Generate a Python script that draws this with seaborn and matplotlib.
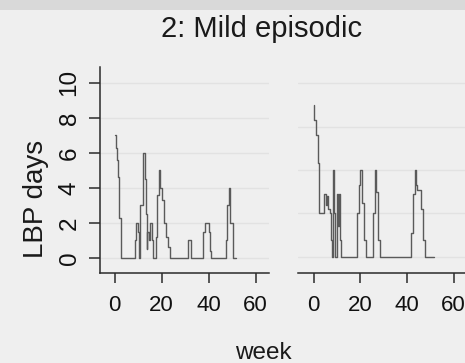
import matplotlib
matplotlib.use("Agg")
import matplotlib.pyplot as plt
from matplotlib.patches import Rectangle
import seaborn as sns
import pandas as pd

# Weekly LBP-day trajectories (step series) for two participants in class 2
weeks_a = [0, 0.6, 1.0, 1.5, 2.0, 2.7, 8.7, 9.2, 10.0, 10.6, 11.0, 12.3, 12.8, 13.2,
           13.6, 14.0, 14.5, 15.0, 15.8, 16.2, 17.6, 18.2, 18.8, 19.4, 20.0, 21.0,
           21.8, 22.8, 23.6, 31.2, 32.5, 37.8, 38.4, 40.0, 40.6, 41.2, 47.4, 48.0,
           48.8, 49.3, 50.4, 51.7]
days_a = [7, 6.3, 5.6, 4.6, 2.3, 0, 1, 2, 1.5, 0, 3, 6, 4.5, 2.5,
          0.5, 1.5, 1, 2, 1, 0, 1.2, 3.6, 5, 4, 3.3, 2,
          1.2, 0.6, 0, 1, 0, 1.5, 2, 1.5, 0.4, 0, 1, 3,
          4, 2, 0, 0]

weeks_b = [0, 0.2, 1.1, 1.9, 2.5, 4.5, 5.2, 5.8, 6.3, 7.0, 7.4, 7.9, 8.3, 8.9,
           9.3, 9.9, 10.5, 10.9, 11.3, 11.8, 18.6, 19.3, 20.0, 20.8, 21.6, 22.4,
           25.5, 26.2, 26.9, 27.4, 28.3, 41.8, 42.5, 43.3, 43.8, 44.3, 45.8, 46.8,
           47.6, 51.4]
days_b = [7, 6.3, 5.6, 4.3, 2, 2.9, 2.4, 2.8, 2.2, 2, 0.8, 0, 4, 2,
          0, 2.9, 1.4, 2.9, 0.8, 0, 2, 3.3, 4, 2.5, 0.8, 0,
          2, 4, 3, 0.8, 0, 1.1, 2.9, 4, 3.3, 3.1, 2.2, 0.8,
          0, 0]

x_ticks = [0, 20, 40, 60]
y_ticks_a = [0, 2, 4, 6, 8, 10]
y_ticks_b = [0, 2, 4, 6, 8]

df_a = pd.DataFrame({"week": weeks_a, "days": days_a})
df_b = pd.DataFrame({"week": weeks_b, "days": days_b})

sns.set_theme(style="white")
plt.rcParams["font.family"] = ["Liberation Sans", "DejaVu Sans"]

bg = "#efefef"
ink = "#2b2b2b"
W, H = 465, 363
fig = plt.figure(figsize=(W / 100, H / 100), dpi=100, facecolor=bg)
fig.patches.append(Rectangle((0, 1 - 10 / H), 1, 10 / H, transform=fig.transFigure,
                             facecolor="#d9d9d9", edgecolor="none", zorder=0))

ax_a = fig.add_axes([100 / W, 1 - 273 / H, 169 / W, 206 / H])
ax_b = fig.add_axes([298 / W, 1 - 273 / H, 169 / W, 206 / H])

line_kw = dict(color="#5a5a5a", linewidth=1.0, drawstyle="steps-post",
               estimator=None, sort=False, legend=False)

for ax, df, yt, ylim in [(ax_a, df_a, y_ticks_a, (-0.857, 10.91)),
                         (ax_b, df_b, y_ticks_b, (-0.74, 8.74))]:
    ax.set_facecolor(bg)
    for v in yt:
        ax.axhline(v, color="#e2e2e2", linewidth=1.0, zorder=0)
    sns.lineplot(data=df, x="week", y="days", ax=ax, **line_kw)
    ax.set_xlim(-6.2 if ax is ax_a else -6.65, 65.7)
    ax.set_ylim(*ylim)
    ax.set_xticks(x_ticks)
    ax.set_xticklabels([str(t) for t in x_ticks], fontsize=16, color="#111111")
    ax.tick_params(axis="x", direction="out", length=7.5, width=1.1, color=ink, pad=8,
                   bottom=True)
    ax.set_xlabel("")
    ax.set_ylabel("")
    for s in ["top", "right"]:
        ax.spines[s].set_visible(False)
    ax.spines["bottom"].set_color(ink)
    ax.spines["bottom"].set_linewidth(1.1)

ax_a.spines["left"].set_color(ink)
ax_a.spines["left"].set_linewidth(1.1)
ax_a.set_yticks(y_ticks_a)
ax_a.set_yticklabels([str(t) for t in y_ticks_a], fontsize=17.5, rotation=90,
                     va="center", color="#111111")
ax_a.tick_params(axis="y", direction="out", length=8, width=1.1, color=ink, pad=6,
                 left=True)

ax_b.spines["left"].set_visible(False)
ax_b.set_yticks([])

fig.text(262 / W, 1 - 37 / H, "2: Mild episodic", ha="center", va="baseline",
         fontsize=21, color="#1a1a1a")
fig.text(263 / W, 1 - 359 / H, "week", ha="center", va="baseline",
         fontsize=17.5, color="#1a1a1a")
fig.text(36 / W, 1 - 199 / H, "LBP days", ha="center", va="center", rotation=90,
         fontsize=20, color="#1a1a1a")

fig.savefig("out.png", dpi=100, facecolor=bg)
